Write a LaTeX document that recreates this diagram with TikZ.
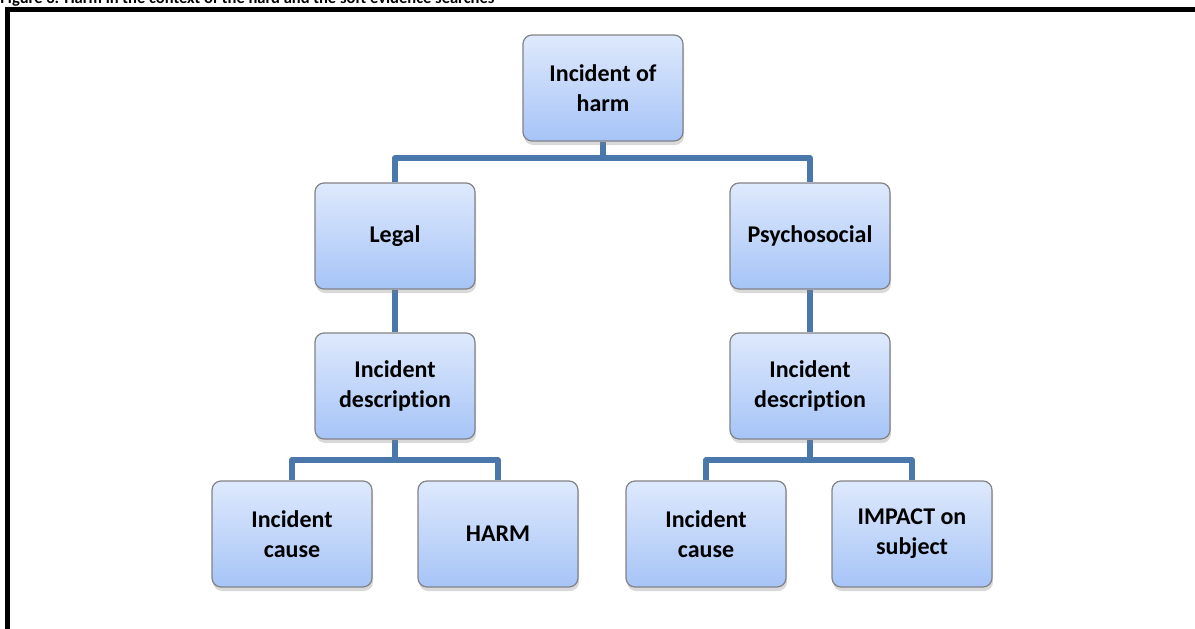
\documentclass[tikz,border=0pt]{standalone}
\usepackage{fontspec}
\setmainfont{Carlito}[Ligatures=NoCommon]
\usetikzlibrary{shadows,backgrounds}

\definecolor{boxtop}{RGB}{222,233,252}
\definecolor{boxbot}{RGB}{166,196,247}
\definecolor{boxline}{RGB}{130,130,135}
\definecolor{connblue}{RGB}{74,119,172}

\tikzset{every picture/.style={line width=0.75pt}}
\tikzset{
	harmbox/.style={draw=boxline, line width=1.2pt, rounded corners=9pt,
		top color=boxtop, bottom color=boxbot,
		minimum width=160pt, minimum height=106pt, inner sep=2pt,
		align=center, font=\fontsize{24}{30}\selectfont\bfseries,
		drop shadow={shadow xshift=1pt, shadow yshift=-4pt, opacity=0.3}},
	conn/.style={draw=connblue, line width=5.5pt, line join=round}
}

\begin{document}
\begin{tikzpicture}[x=1pt,y=1pt,yscale=-1,xscale=1]
	\useasboundingbox (0,0) rectangle (1195,629);

	% caption line, cut off at the top
	\node [anchor=base west, inner sep=0pt, font=\fontsize{16.5}{20}\selectfont\bfseries] (caption) at (0,4) {Figure 3: Harm in the context of the hard and the soft evidence searches};
	% frame
	\draw [line width=4.5pt] (7.5,640) -- (7.5,9.5) -- (1205,9.5);

	\coordinate (splittop) at (603,158);
	\coordinate (splitleft) at (395,460);
	\coordinate (splitright) at (810,460);

	% Text Node
	\node [harmbox] (incident) at (603,88) {Incident of\\harm};
	% Text Node
	\node [harmbox] (legal) at (395,236) {Legal};
	% Text Node
	\node [harmbox] (psycho) at (810,236) {Psychosocial};
	% Text Node
	\node [harmbox] (descleft) at (395,386) {Incident\\description};
	% Text Node
	\node [harmbox] (descright) at (810,386) {Incident\\description};
	% Text Node
	\node [harmbox] (causeleft) at (292,534) {Incident\\cause};
	% Text Node
	\node [harmbox] (harm) at (498,534) {HARM};
	% Text Node
	\node [harmbox] (causeright) at (706,534) {Incident\\cause};
	% Text Node
	\node [harmbox] (impact) at (912,534) {IMPACT on\\subject};

	% Straight Lines (behind the boxes)
	\begin{pgfonlayer}{background}
	\draw [conn] (incident.south) -- (splittop) -| (legal.north);
	\draw [conn] (splittop) -| (psycho.north);
	\draw [conn] (legal.south) -- (descleft.north);
	\draw [conn] (psycho.south) -- (descright.north);
	\draw [conn] (descleft.south) -- (splitleft) -| (causeleft.north);
	\draw [conn] (splitleft) -| (harm.north);
	\draw [conn] (descright.south) -- (splitright) -| (causeright.north);
	\draw [conn] (splitright) -| (impact.north);
	\end{pgfonlayer}

\end{tikzpicture}
\end{document}
